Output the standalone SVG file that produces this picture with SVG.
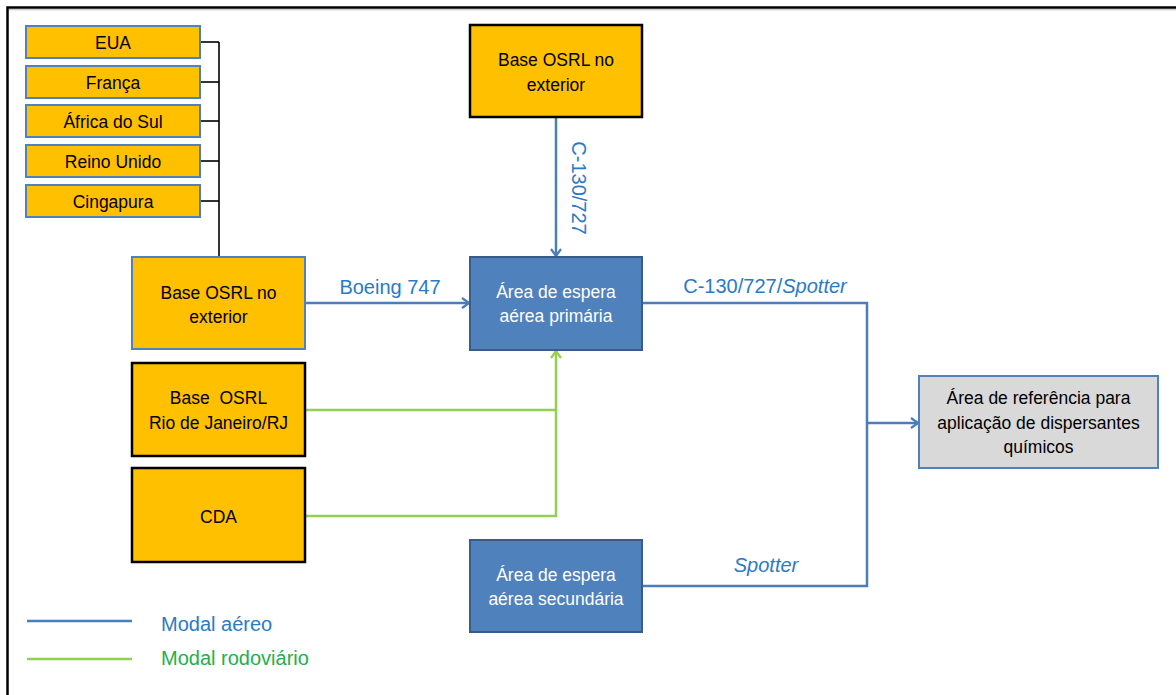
<svg xmlns="http://www.w3.org/2000/svg" width="1176" height="695" viewBox="0 0 1176 695">
<defs>
<marker id="arrB" viewBox="0 0 12 12" refX="11" refY="6" markerWidth="12" markerHeight="12" markerUnits="userSpaceOnUse" orient="auto">
<polyline points="4,1 11,6 4,11" fill="none" stroke="#4A7EBB" stroke-width="2.2"/>
</marker>
<marker id="arrG" viewBox="0 0 12 12" refX="11" refY="6" markerWidth="12" markerHeight="12" markerUnits="userSpaceOnUse" orient="auto">
<polyline points="4,1 11,6 4,11" fill="none" stroke="#92D050" stroke-width="2.2"/>
</marker>
<style>
.yc{fill:#FFC000;stroke:#4F81BD;stroke-width:2}
.yk{fill:#FFC000;stroke:#000;stroke-width:2.5}
.bl{fill:#4F81BD;stroke:#385D8A;stroke-width:2}
.gr{fill:#D9D9D9;stroke:#4F81BD;stroke-width:2}
.t{font-family:"Liberation Sans",Arial,sans-serif;font-size:17.5px;text-anchor:middle;fill:#000}
.tw{font-family:"Liberation Sans",Arial,sans-serif;font-size:17.5px;text-anchor:middle;fill:#fff}
.lb{font-family:"Liberation Sans",Arial,sans-serif;font-size:20px;fill:#2A7AC6}
.lg{font-family:"Liberation Sans",Arial,sans-serif;font-size:20px;fill:#22B04B}
.cb{fill:none;stroke:#4A7EBB;stroke-width:2.5}
.cg{fill:none;stroke:#92D050;stroke-width:2.5}
.ck{fill:none;stroke:#000;stroke-width:1.6}
</style>
</defs>
<rect x="0" y="0" width="1176" height="695" fill="#fff"/>
<rect x="7.5" y="7.5" width="1200" height="800" fill="none" stroke="#000" stroke-width="2.5"/>
<line x1="9" y1="9.8" x2="1176" y2="9.8" stroke="#bbb" stroke-width="1"/>

<g id="connectors">
<polyline class="ck" points="200,42 219,42"/>
<polyline class="ck" points="200,82 219,82"/>
<polyline class="ck" points="200,121 219,121"/>
<polyline class="ck" points="200,161 219,161"/>
<polyline class="ck" points="200,201 219,201"/>
<line class="ck" x1="219" y1="42" x2="219" y2="257"/>
<line class="cb" x1="305" y1="303" x2="469" y2="303" marker-end="url(#arrB)"/>
<line class="cb" x1="556" y1="117" x2="556" y2="256" marker-end="url(#arrB)"/>
<polyline class="cb" points="643,303 867,303 867,586 643,586"/>
<line class="cb" x1="867" y1="423" x2="918" y2="423" marker-end="url(#arrB)"/>
<line class="cg" x1="305" y1="410" x2="556" y2="410"/>
<polyline class="cg" points="305,516 556,516 556,351" marker-end="url(#arrG)"/>
<text class="lb" x="390" y="294" text-anchor="middle">Boeing 747</text>
<text class="lb" transform="translate(572,188) rotate(90)" text-anchor="middle">C-130/727</text>
<text class="lb" x="765" y="293" text-anchor="middle">C-130/727/<tspan font-style="italic">Spotter</tspan></text>
<text class="lb" x="766" y="572" text-anchor="middle" font-style="italic">Spotter</text>
</g>

<g id="n-eua"><rect class="yc" x="26" y="26" width="174" height="32"/><text class="t" x="113" y="49">EUA</text></g>
<g id="n-franca"><rect class="yc" x="26" y="66" width="174" height="32"/><text class="t" x="113" y="89">França</text></g>
<g id="n-africa"><rect class="yc" x="26" y="105" width="174" height="32"/><text class="t" x="113" y="128">África do Sul</text></g>
<g id="n-reino"><rect class="yc" x="26" y="145" width="174" height="32"/><text class="t" x="113" y="168">Reino Unido</text></g>
<g id="n-cingapura"><rect class="yc" x="26" y="185" width="174" height="32"/><text class="t" x="113" y="208">Cingapura</text></g>

<g id="n-base-ext-left"><rect class="yc" x="132" y="257" width="173" height="92"/><text class="t" x="218.5" y="299">Base OSRL no</text><text class="t" x="218.5" y="323">exterior</text></g>
<g id="n-base-rio"><rect class="yk" x="132" y="363" width="173" height="93"/><text class="t" x="218.5" y="404" xml:space="preserve">Base  OSRL</text><text class="t" x="218.5" y="429">Rio de Janeiro/RJ</text></g>
<g id="n-cda"><rect class="yk" x="132" y="468" width="173" height="94"/><text class="t" x="218.5" y="523">CDA</text></g>
<g id="n-base-ext-top"><rect class="yk" x="470" y="25" width="172" height="92"/><text class="t" x="556" y="66">Base OSRL no</text><text class="t" x="556" y="91">exterior</text></g>
<g id="n-primaria"><rect class="bl" x="470" y="257" width="172" height="93"/><text class="tw" x="556" y="298">Área de espera</text><text class="tw" x="556" y="322">aérea primária</text></g>
<g id="n-secundaria"><rect class="bl" x="470" y="540" width="172" height="92"/><text class="tw" x="556" y="581">Área de espera</text><text class="tw" x="556" y="605">aérea secundária</text></g>
<g id="n-referencia"><rect class="gr" x="919" y="376" width="239" height="92"/><text class="t" x="1038.5" y="404">Área de referência para</text><text class="t" x="1038.5" y="429">aplicação de dispersantes</text><text class="t" x="1038.5" y="453">químicos</text></g>

<g id="legend">
<line class="cb" x1="27" y1="621" x2="132" y2="621"/>
<line class="cg" x1="27" y1="659" x2="132" y2="659"/>
<text class="lb" x="161" y="631">Modal aéreo</text>
<text class="lg" x="161" y="665">Modal rodoviário</text>
</g>
</svg>
